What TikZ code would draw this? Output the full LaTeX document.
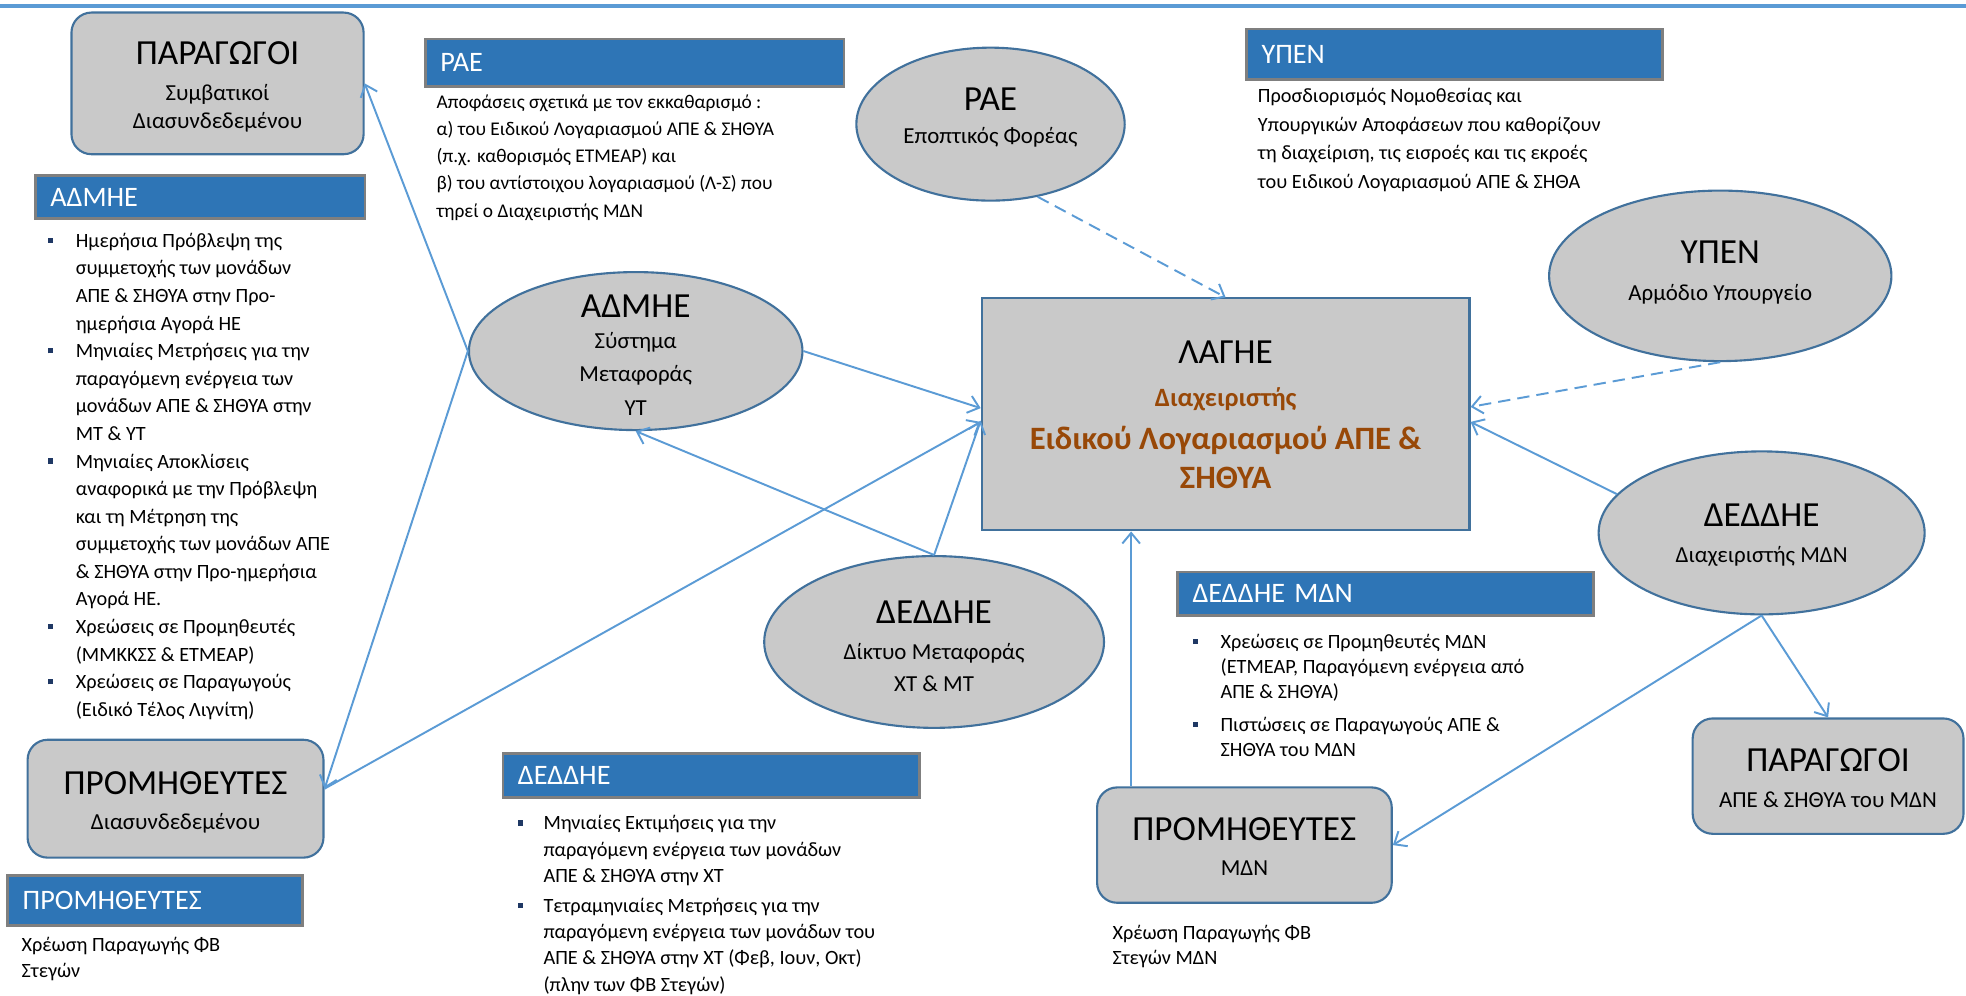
\documentclass[tikz,border=0pt]{standalone}
\usepackage{fontspec}
\setmainfont{Carlito}
\usepackage{tikz}
\usetikzlibrary{arrows.meta,calc,shapes.geometric,positioning}
\definecolor{linkblue}{HTML}{5B9BD5}
\definecolor{bordblue}{HTML}{41719C}
\definecolor{shapegray}{HTML}{C9C9C9}
\definecolor{hdrblue}{HTML}{2E75B6}
\definecolor{hdrgray}{HTML}{7F7F7F}
\definecolor{accbrown}{HTML}{984807}
\definecolor{bulletblue}{HTML}{1F3864}
\tikzset{box/.style={rectangle,rounded corners=4mm,draw=bordblue,fill=shapegray,line width=1.2pt,inner sep=0pt,font=\subfont},
	oval/.style={ellipse,draw=bordblue,fill=shapegray,line width=1.2pt,inner sep=0pt,font=\subfont},
	hdr/.style 2 args={rectangle,anchor=north west,draw=hdrgray,fill=hdrblue,line width=1.6pt,text=white,font=\hdrfont,
		inner xsep=3mm,inner ysep=0pt,text width=#1,minimum height=#2,align=left},
	txt/.style={anchor=north west,inner sep=0pt},
	link/.style={draw=linkblue,line width=1.1pt,-{Straight Barb[length=6pt,width=10pt]}},
	dashlink/.style={dash pattern=on 7pt off 4pt}}
\newcommand{\ttlfont}{\fontsize{20}{24}\selectfont}
\newcommand{\subfont}{\fontsize{13}{16}\selectfont}
\newcommand{\hdrfont}{\fontsize{16}{19}\selectfont}
\newcommand{\sqb}{\textcolor{bulletblue}{\rule[2.5pt]{3pt}{3pt}}}
\newcommand{\shapetext}[2][-6.4pt]{\smash{\raisebox{#1}{\begin{tabular}{@{}c@{}}#2\end{tabular}}}}

\begin{document}
\begin{tikzpicture}[x=0.25mm,y=-0.25mm]
	\useasboundingbox (0,0) rectangle (1568,794);
	\draw[linkblue,line width=2.5pt] (0,5) -- (1568,5);
	
	% actors
	\node[box,minimum width=58.25mm,minimum height=28.25mm] (parL) at (173.5,66.5) {\shapetext{{\ttlfont ΠΑΡΑΓΩΓΟΙ}\\[4.6pt] Συμβατικοί\\ Διασυνδεδεμένου}};
	\node[box,minimum width=59mm,minimum height=23.5mm] (promL) at (140,637) {\shapetext{{\ttlfont ΠΡΟΜΗΘΕΥΤΕΣ}\\[4pt] Διασυνδεδεμένου}};
	\node[box,minimum width=58.75mm,minimum height=23mm] (promM) at (992.5,674) {\shapetext{{\ttlfont ΠΡΟΜΗΘΕΥΤΕΣ}\\[4pt] ΜΔΝ}};
	\node[box,minimum width=54mm,minimum height=23mm] (parR) at (1458,619) {\shapetext{{\ttlfont ΠΑΡΑΓΩΓΟΙ}\\[4.6pt] ΑΠΕ \& ΣΗΘΥΑ του ΜΔΝ}};
	\node[box,rounded corners=0pt,minimum width=97.25mm,minimum height=46.25mm,text=accbrown,font={\fontsize{18.5}{22}\selectfont\bfseries}] (lagie) at (977.5,330.5)
		{\shapetext{{\color{black}\mdseries\ttlfont ΛΑΓΗΕ}\\[2.4pt] {\fontsize{15}{17}\selectfont Διαχειριστής}\\[2.8pt] Ειδικού Λογαριασμού ΑΠΕ \&\\ ΣΗΘΥΑ}};
	
	\node[oval,minimum width=53.5mm,minimum height=30.5mm] (rae) at (790,99) {\shapetext[-0.5pt]{{\ttlfont ΡΑΕ}\\[2.4pt] Εποπτικός Φορέας}};
	\node[oval,minimum width=68.25mm,minimum height=34mm] (ypen) at (1372,220) {\shapetext[-2.5pt]{{\ttlfont ΥΠΕΝ}\\[4.6pt] Αρμόδιο Υπουργείο}};
	\node[oval,minimum width=66.5mm,minimum height=31.5mm] (admhe) at (507,280) {\shapetext[-7.5pt]{{\ttlfont ΑΔΜΗΕ}\\[1.7pt] Σύστημα\\[2.8pt] Μεταφοράς\\[3.2pt] ΥΤ}};
	\node[oval,minimum width=67.75mm,minimum height=34.25mm] (dedM) at (745,512) {\shapetext[-7.8pt]{{\ttlfont ΔΕΔΔΗΕ}\\[4.6pt] Δίκτυο Μεταφοράς\\[1.8pt] ΧΤ \& ΜΤ}};
	\node[oval,minimum width=65mm,minimum height=32.5mm] (dedR) at (1405,425) {\shapetext[-5.5pt]{{\ttlfont ΔΕΔΔΗΕ}\\[4.6pt] Διαχειριστής ΜΔΝ}};
	
	% headers
	\node[hdr={59.75mm}{8.5mm}] (hAdmhe) at (27,139) {ΑΔΜΗΕ};
	\node[hdr={77.5mm}{9.5mm}] (hRae) at (338,30) {ΡΑΕ};
	\node[hdr={77mm}{10mm}] (hYpen) at (993,22) {ΥΠΕΝ};
	\node[hdr={77mm}{8.75mm}] (hDmdn) at (938,455) {ΔΕΔΔΗΕ ΜΔΝ};
	\node[hdr={77mm}{8.75mm}] (hDed) at (400,600) {ΔΕΔΔΗΕ};
	\node[hdr={52.75mm}{10mm}] (hProm) at (5,697) {ΠΡΟΜΗΘΕΥΤΕΣ};
	
	% texts under the headers
	\node[txt,font={\fontsize{11.5}{15.65}\selectfont}] (tAdmhe) at (38,181.6) {\begin{tabular}{@{}l@{\hspace{4.5mm}}l@{}}
		\sqb & Ημερήσια Πρόβλεψη της\\ & συμμετοχής των μονάδων\\ & ΑΠΕ \& ΣΗΘΥΑ στην Προ-\\ & ημερήσια Αγορά ΗΕ\\
		\sqb & Μηνιαίες Μετρήσεις για την\\ & παραγόμενη ενέργεια των\\ & μονάδων ΑΠΕ \& ΣΗΘΥΑ στην\\ & ΜΤ \& ΥΤ\\
		\sqb & Μηνιαίες Αποκλίσεις\\ & αναφορικά με την Πρόβλεψη\\ & και τη Μέτρηση της\\ & συμμετοχής των μονάδων ΑΠΕ\\ & \& ΣΗΘΥΑ στην Προ-ημερήσια\\ & Αγορά ΗΕ.\\
		\sqb & Χρεώσεις σε Προμηθευτές\\ & (ΜΜΚΚΣΣ \& ΕΤΜΕΑΡ)\\
		\sqb & Χρεώσεις σε Παραγωγούς\\ & (Ειδικό Τέλος Λιγνίτη)
	\end{tabular}};
	\node[txt,font={\fontsize{11}{15.5}\selectfont}] (tRae) at (348,70.6) {\begin{tabular}{@{}l@{}}
		Αποφάσεις σχετικά με τον εκκαθαρισμό :\\ α) του Ειδικού Λογαριασμού ΑΠΕ \& ΣΗΘΥΑ\\ (π.χ. καθορισμός ΕΤΜΕΑΡ) και\\
		β) του αντίστοιχου λογαριασμού (Λ-Σ) που\\ τηρεί ο Διαχειριστής ΜΔΝ
	\end{tabular}};
	\node[txt,font={\fontsize{11.5}{16.4}\selectfont}] (tYpen) at (1003,65) {\begin{tabular}{@{}l@{}}
		Προσδιορισμός Νομοθεσίας και\\ Υπουργικών Αποφάσεων που καθορίζουν\\ τη διαχείριση, τις εισροές και τις εκροές\\ του Ειδικού Λογαριασμού ΑΠΕ \& ΣΗΘΑ
	\end{tabular}};
	\node[txt,font={\fontsize{11.5}{14.2}\selectfont}] (tDmdn) at (951,503) {\begin{tabular}{@{}l@{\hspace{4.5mm}}l@{}}
		\sqb & Χρεώσεις σε Προμηθευτές ΜΔΝ\\ & (ΕΤΜΕΑΡ, Παραγόμενη ενέργεια από\\ & ΑΠΕ \& ΣΗΘΥΑ)\\[4.3pt]
		\sqb & Πιστώσεις σε Παραγωγούς ΑΠΕ \&\\ & ΣΗΘΥΑ του ΜΔΝ
	\end{tabular}};
	\node[txt,font={\fontsize{11.5}{14.9}\selectfont}] (tDed) at (413,647) {\begin{tabular}{@{}l@{\hspace{4mm}}l@{}}
		\sqb & Μηνιαίες Εκτιμήσεις για την\\ & παραγόμενη ενέργεια των μονάδων\\ & ΑΠΕ \& ΣΗΘΥΑ στην ΧΤ\\[2pt]
		\sqb & Τετραμηνιαίες Μετρήσεις για την\\ & παραγόμενη ενέργεια των μονάδων του\\ & ΑΠΕ \& ΣΗΘΥΑ στην ΧΤ (Φεβ, Ιουν, Οκτ)\\ & (πλην των ΦΒ Στεγών)
	\end{tabular}};
	\node[txt,font={\fontsize{11.5}{14.2}\selectfont}] (tProm) at (17,745) {\begin{tabular}{@{}l@{}}
		Χρέωση Παραγωγής ΦΒ\\ Στεγών
	\end{tabular}};
	\node[txt,font={\fontsize{11.5}{14.2}\selectfont}] (tPromM) at (887,735) {\begin{tabular}{@{}l@{}}
		Χρέωση Παραγωγής ΦΒ\\ Στεγών ΜΔΝ
	\end{tabular}};
	
	% flows
	\coordinate (mdnup) at ([xshift=7mm]promM.north west);
	\draw[link] (admhe.west) -- (parL.east);
	\draw[link] (admhe.west) -- ([yshift=2mm]promL.east);
	\draw[link] ([yshift=2mm]promL.east) -- ([yshift=-1.5mm]lagie.west);
	\draw[link] (admhe.east) -- ([yshift=1.25mm]lagie.west);
	\draw[link] (dedM.north) -- (admhe.south);
	\draw[link] (dedM.north) -- ([yshift=-1.25mm]lagie.west);
	\draw[link] (mdnup) -- (mdnup |- lagie.south);
	\draw[link,dashlink] (rae.-57) -- (lagie.north);
	\draw[link,dashlink] (ypen.south) -- ([yshift=1.5mm]lagie.east);
	\draw[link] (dedR.165) -- ([yshift=-1.5mm]lagie.east);
	\draw[link] (dedR.south) -- (parR.north);
	\draw[link] (dedR.south) -- (promM.east);
\end{tikzpicture}
\end{document}
